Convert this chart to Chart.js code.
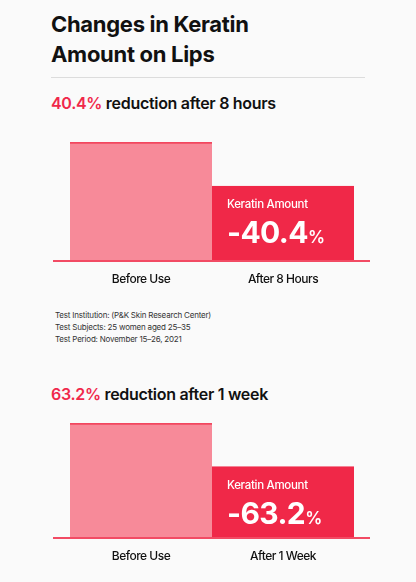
<!DOCTYPE html>
<html>
<head>
<meta charset="utf-8">
<script src="https://cdn.jsdelivr.net/npm/chart.js@4"></script>
<style>
  html, body { margin: 0; padding: 0; }
  body { width: 416px; height: 582px; background: #fafafa; position: relative; overflow: hidden;
         font-family: Inter, "Noto Sans", sans-serif; color: #111; }
  .abs { position: absolute; white-space: nowrap; }
  .title { left: 51px; top: 9px; font-size: 22px; font-weight: 700; line-height: 30px; letter-spacing: -0.3px; }
  .rule { left: 51px; top: 77px; width: 314px; height: 1px; background: #dcdcdc; }
  .sub { left: 51px; font-size: 16px; font-weight: 600; line-height: 20px; letter-spacing: -0.3px; }
  .sub span { color: #f0284a; }
  .notes { left: 55px; top: 309px; font-size: 8px; line-height: 12px; letter-spacing: -0.2px; color: #333; }
  canvas { position: absolute; left: 0; }
</style>
</head>
<body>
<div class="abs title">Changes in Keratin<br>Amount on Lips</div>
<div class="abs rule"></div>
<div class="abs sub" id="sub1" style="top:93px"></div>
<div class="abs notes">Test Institution: (P&amp;K Skin Research Center)<br>Test Subjects: 25 women aged 25–35<br>Test Period: November 15–26, 2021</div>
<div class="abs sub" id="sub2" style="top:384px"></div>

<canvas id="chart1" width="416" height="160" style="top:130px"></canvas>
<canvas id="chart2" width="416" height="156" style="top:411px"></canvas>

<script>
// データ（画像から読み取った棒の高さ、使用前=100）
const labels1 = ['Before Use', 'After 8 Hours'];
const values1 = [100, 63];
const labels2 = ['Before Use', 'After 1 Week'];
const values2 = [100, 62];

// 減少率
const reductions = ['40.4', '63.2'];
const subtitles = ['reduction after 8 hours', 'reduction after 1 week'];

// 見出し
document.getElementById('sub1').innerHTML = '<span>' + reductions[0] + '%</span> ' + subtitles[0];
document.getElementById('sub2').innerHTML = '<span>' + reductions[1] + '%</span> ' + subtitles[1];

// ベースラインと棒の中の文字
const keratinPlugin = {
    id: 'keratin',
    beforeDraw(chart) {
        chart.ctx.letterSpacing = '-0.5px';
    },
    afterDatasetsDraw(chart, args, opts) {
        const ctx = chart.ctx;
        const area = chart.chartArea;
        ctx.save();
        ctx.strokeStyle = '#f24b64';
        ctx.lineWidth = 2;
        ctx.beginPath();
        ctx.moveTo(area.left - 17, area.bottom);
        ctx.lineTo(area.right + 16, area.bottom);
        ctx.stroke();

        const bar = chart.getDatasetMeta(0).data[1];
        const x = bar.x - bar.width / 2 + 15;
        ctx.fillStyle = '#ffffff';
        ctx.textBaseline = 'middle';
        ctx.letterSpacing = '-0.3px';
        ctx.font = '500 11.5px Inter';
        ctx.fillText('Keratin Amount', x, bar.y + 19);
        ctx.textBaseline = 'alphabetic';
        ctx.letterSpacing = '-0.6px';
        ctx.font = '700 30px Inter';
        const big = '-' + opts.value;
        ctx.fillText(big, x, bar.y + 57);
        const w = ctx.measureText(big).width;
        ctx.letterSpacing = '0px';
        ctx.font = '600 17px Inter';
        ctx.fillText('%', x + w, bar.y + 57);
        ctx.restore();
    },
    afterDraw(chart) {
        chart.ctx.letterSpacing = '0px';
    }
};

function makeChart(id, labels, values, value) {
    return new Chart(document.getElementById(id), {
        type: 'bar',
        data: {
            labels: labels,
            datasets: [{
                data: values,
                backgroundColor: ['#f78a99', '#f02848'],
                borderColor: ['#f2475f', '#f02848'],
                borderWidth: { top: 2, right: 0, bottom: 0, left: 0 },
                borderSkipped: false,
                barPercentage: 1,
                categoryPercentage: 1
            }]
        },
        options: {
            responsive: false,
            animation: false,
            layout: { padding: { left: 70, right: 62, top: 12, bottom: 0 } },
            plugins: {
                legend: { display: false },
                tooltip: { enabled: false },
                keratin: { value: value }
            },
            scales: {
                y: { display: false, min: 0, max: 100 },
                x: {
                    grid: { display: false, drawTicks: false },
                    border: { display: false },
                    ticks: { padding: 11, color: '#111', font: { family: 'Inter', size: 12, weight: 500 } },
                    afterFit(scale) { scale.height = 29; }
                }
            }
        },
        plugins: [keratinPlugin]
    });
}

makeChart('chart1', labels1, values1, reductions[0]);
makeChart('chart2', labels2, values2, reductions[1]);
</script>
</body>
</html>
